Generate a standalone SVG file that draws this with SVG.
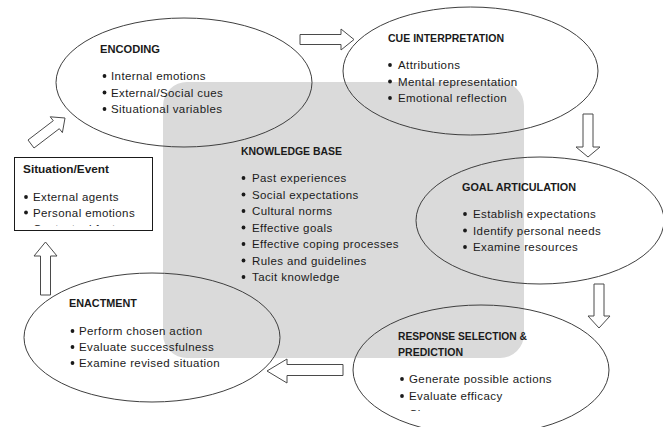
<svg xmlns="http://www.w3.org/2000/svg" width="663" height="427" viewBox="0 0 663 427">
<style>
.ell{fill:none;stroke:#3f3f3f;stroke-width:1}
.arr{fill:#fff;stroke:#4a4a4a;stroke-width:1;stroke-linejoin:miter}
.h{font-family:"Liberation Sans",Arial,sans-serif;font-weight:bold;font-size:11px;fill:#1a1a1a}
.t{font-family:"Liberation Sans",Arial,sans-serif;font-size:11.5px;letter-spacing:0.4px;fill:#1a1a1a}
.b{fill:#1a1a1a}
</style>
<defs>
<clipPath id="clipSit"><rect x="14" y="157" width="139" height="69"/></clipPath>
<clipPath id="clipResp"><rect x="350" y="300" width="270" height="111"/></clipPath>
</defs>
<rect width="663" height="427" fill="#fff"/>
<g id="knowledge-base">
<rect x="163" y="82" width="361" height="276" rx="24" ry="24" fill="#dadada"/>
<text class="h" x="241" y="155" textLength="101" lengthAdjust="spacingAndGlyphs">KNOWLEDGE BASE</text>
<g class="b"><circle cx="243.5" cy="178" r="1.9"/><circle cx="243.5" cy="194.5" r="1.9"/><circle cx="243.5" cy="211" r="1.9"/><circle cx="243.5" cy="227.5" r="1.9"/><circle cx="243.5" cy="244" r="1.9"/><circle cx="243.5" cy="260.5" r="1.9"/><circle cx="243.5" cy="277" r="1.9"/></g>
<text class="t" x="252" y="182">Past experiences</text>
<text class="t" x="252" y="198.5">Social expectations</text>
<text class="t" x="252" y="215">Cultural norms</text>
<text class="t" x="252" y="231.5">Effective goals</text>
<text class="t" x="252" y="248">Effective coping processes</text>
<text class="t" x="252" y="264.5">Rules and guidelines</text>
<text class="t" x="252" y="281">Tacit knowledge</text>
</g>
<g id="encoding">
<ellipse class="ell" cx="184" cy="82.5" rx="128" ry="64.5"/>
<text class="h" x="100" y="53" textLength="60" lengthAdjust="spacingAndGlyphs">ENCODING</text>
<g class="b"><circle cx="104.5" cy="76" r="1.9"/><circle cx="104.5" cy="92.5" r="1.9"/><circle cx="104.5" cy="109" r="1.9"/></g>
<text class="t" x="111" y="80">Internal emotions</text>
<text class="t" x="111" y="96.5">External/Social cues</text>
<text class="t" x="111" y="113">Situational variables</text>
</g>
<g id="cue-interpretation">
<ellipse class="ell" cx="470.5" cy="71" rx="127.5" ry="64"/>
<text class="h" x="388" y="42" textLength="116" lengthAdjust="spacingAndGlyphs">CUE INTERPRETATION</text>
<g class="b"><circle cx="390" cy="65" r="1.9"/><circle cx="390" cy="81.5" r="1.9"/><circle cx="390" cy="98" r="1.9"/></g>
<text class="t" x="398" y="69">Attributions</text>
<text class="t" x="398" y="85.5">Mental representation</text>
<text class="t" x="398" y="102">Emotional reflection</text>
</g>
<g id="goal-articulation">
<ellipse class="ell" cx="540" cy="220.5" rx="124" ry="63.5"/>
<text class="h" x="462" y="191" textLength="114" lengthAdjust="spacingAndGlyphs">GOAL ARTICULATION</text>
<g class="b"><circle cx="465" cy="214" r="1.9"/><circle cx="465" cy="230.5" r="1.9"/><circle cx="465" cy="247" r="1.9"/></g>
<text class="t" x="473" y="218">Establish expectations</text>
<text class="t" x="473" y="234.5">Identify personal needs</text>
<text class="t" x="473" y="251">Examine resources</text>
</g>
<g id="response-selection">
<ellipse class="ell" cx="481" cy="370" rx="128" ry="65"/>
<text class="h" x="398" y="340" textLength="129" lengthAdjust="spacingAndGlyphs">RESPONSE SELECTION &amp;</text>
<text class="h" x="398" y="356" textLength="65" lengthAdjust="spacingAndGlyphs">PREDICTION</text>
<g class="b"><circle cx="402" cy="379" r="1.9"/><circle cx="402" cy="396" r="1.9"/></g>
<text class="t" x="409" y="383">Generate possible actions</text>
<text class="t" x="409" y="400">Evaluate efficacy</text>
<g clip-path="url(#clipResp)"><text class="t" x="409" y="418">Choose a response</text></g>
</g>
<g id="enactment">
<ellipse class="ell" cx="152" cy="337.5" rx="128" ry="64.5"/>
<text class="h" x="69" y="307" textLength="68" lengthAdjust="spacingAndGlyphs">ENACTMENT</text>
<g class="b"><circle cx="72.5" cy="331" r="1.9"/><circle cx="72.5" cy="347" r="1.9"/><circle cx="72.5" cy="363" r="1.9"/></g>
<text class="t" x="79" y="335">Perform chosen action</text>
<text class="t" x="79" y="351">Evaluate successfulness</text>
<text class="t" x="79" y="367">Examine revised situation</text>
</g>
<g id="situation-event">
<rect x="14.5" y="157.5" width="138" height="73" fill="#fff" stroke="#1a1a1a" stroke-width="1"/>
<text class="h" x="23" y="173" font-size="11.5" textLength="86" lengthAdjust="spacingAndGlyphs">Situation/Event</text>
<g class="b"><circle cx="26" cy="197" r="1.9"/><circle cx="26" cy="212.5" r="1.9"/></g>
<text class="t" x="33" y="201">External agents</text>
<text class="t" x="33" y="216.5">Personal emotions</text>
<g clip-path="url(#clipSit)"><text class="t" x="33" y="233">Contextual factors</text></g>
</g>
<g id="connectors">
<polygon class="arr" points="300,34.5 341,34.5 341,29 354,39.5 341,50 341,44.5 300,44.5"/>
<polygon class="arr" points="583,114 593,114 593,147 600,147 588,157 576,147 583,147"/>
<polygon class="arr" points="594,284 604,284 604,316 610,316 599,328 588,316 594,316"/>
<polygon class="arr" points="343,364.5 287,364.5 287,359 267,371 287,383 287,375.5 343,375.5"/>
<polygon class="arr" points="40.5,295 40.5,256 34,256 45.5,242 57,256 50.5,256 50.5,295"/>
<polygon class="arr" points="34,148 59.3,128.7 62.4,132.6 65,118 50.2,116.8 53.3,120.7 28,140"/>
</g>
</svg>
